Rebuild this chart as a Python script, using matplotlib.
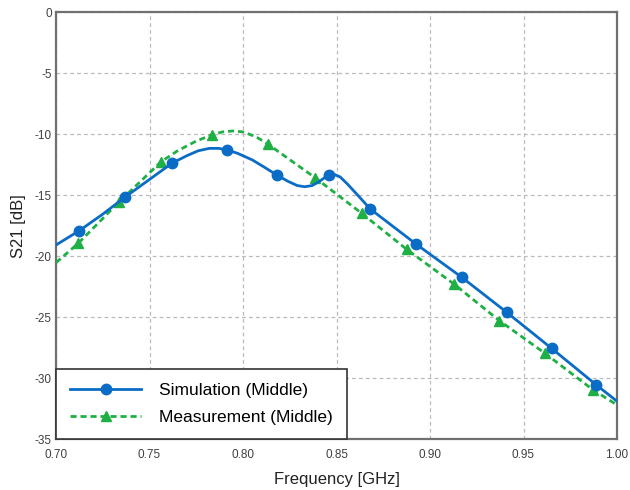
import matplotlib
matplotlib.use("Agg")
import matplotlib.pyplot as plt
from matplotlib.ticker import FixedLocator

# ---- data ----
sim_freq = [0.700, 0.7125, 0.725, 0.737, 0.750, 0.762, 0.770, 0.776, 0.782, 0.787,
            0.7914, 0.797, 0.805, 0.812, 0.818, 0.824, 0.829, 0.833, 0.837, 0.841,
            0.8445, 0.8462, 0.849, 0.852, 0.856, 0.862, 0.868, 0.8925, 0.917,
            0.941, 0.965, 0.989, 1.000]
sim_s21 = [-19.08, -17.90, -16.55, -15.14, -13.70, -12.37, -11.75, -11.35, -11.15, -11.15,
           -11.28, -11.55, -12.10, -12.75, -13.33, -13.85, -14.20, -14.30, -14.20, -13.85,
           -13.45, -13.33, -13.30, -13.50, -14.10, -15.10, -16.12, -19.00, -21.73,
           -24.60, -27.56, -30.57, -31.90]
sim_marker_idx = [1, 3, 5, 10, 14, 21, 26, 27, 28, 29, 30, 31]

meas_freq = [0.700, 0.7119, 0.7339, 0.7561, 0.765, 0.775, 0.7832, 0.789, 0.795, 0.800,
             0.807, 0.8132, 0.8385, 0.8635, 0.8875, 0.9128, 0.9371, 0.9615, 0.9873, 1.000]
meas_s21 = [-20.53, -18.94, -15.52, -12.26, -11.35, -10.55, -10.05, -9.80, -9.72, -9.80,
            -10.20, -10.79, -13.55, -16.48, -19.43, -22.28, -25.29, -27.97, -30.98, -32.20]
meas_marker_idx = [1, 2, 3, 6, 11, 12, 13, 14, 15, 16, 17, 18]

x_ticks = [0.70, 0.75, 0.80, 0.85, 0.90, 0.95, 1.00]
x_tick_labels = ["0.70", "0.75", "0.80", "0.85", "0.90", "0.95", "1.00"]
y_ticks = [0, -5, -10, -15, -20, -25, -30, -35]
y_tick_labels = ["0", "-5", "-10", "-15", "-20", "-25", "-30", "-35"]

plt.rcParams['font.family'] = ['Liberation Sans', 'DejaVu Sans']

fig = plt.figure(figsize=(6.3, 4.9), dpi=100)
ax = fig.add_axes([56/630, 1 - 439/490, (617-56)/630, (439-12.5)/490])

blue = '#0b6cc6'
green = '#1fb045'

ax.plot(sim_freq, sim_s21, color=blue, lw=2.0, marker='o', ms=7.5,
        markevery=sim_marker_idx, label='Simulation (Middle)', zorder=4)
ax.plot(meas_freq, meas_s21, color=green, lw=2.0, ls=(0, (2.2, 1.4)), marker='^', ms=7.5,
        markevery=meas_marker_idx, label='Measurement (Middle)', zorder=3)

ax.set_xlim(0.70, 1.00)
ax.set_ylim(-35, 0)
ax.xaxis.set_major_locator(FixedLocator(x_ticks))
ax.yaxis.set_major_locator(FixedLocator(y_ticks))
ax.set_xticklabels(x_tick_labels)
ax.set_yticklabels(y_tick_labels)
ax.tick_params(axis='both', length=0, labelsize=8.5, colors='#404040')
ax.tick_params(axis='x', pad=7)
ax.tick_params(axis='y', pad=3)

ax.grid(True, color='#bbbbbb', ls=(0, (3, 2.5)), lw=0.9)
ax.set_axisbelow(True)
for s in ax.spines.values():
    s.set_color('#707070')
    s.set_linewidth(1.6)

ax.set_xlabel('Frequency [GHz]', fontsize=12, color='#222222', labelpad=8)
ax.set_ylabel('S21 [dB]', fontsize=12, color='#222222', labelpad=6)

leg = ax.legend(loc='lower left', bbox_to_anchor=(0, 0), borderaxespad=0,
                fontsize=12.5, numpoints=1, handlelength=4.1, handletextpad=1.0,
                borderpad=0.82, labelspacing=0.66, fancybox=False, framealpha=1,
                edgecolor='#333333')
leg.get_frame().set_linewidth(1.2)
leg.set_zorder(10)

fig.savefig('out.png', dpi=100)
